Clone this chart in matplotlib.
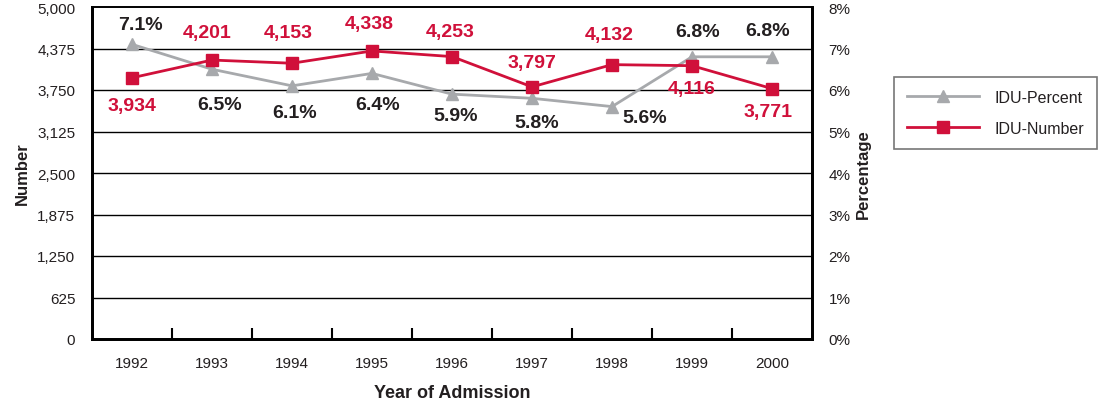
import numpy as np
import matplotlib.pyplot as plt
from matplotlib.ticker import FuncFormatter, FixedLocator

plt.rcParams['font.family'] = ['Liberation Sans Narrow', 'Liberation Sans', 'DejaVu Sans']

years = ['1992', '1993', '1994', '1995', '1996', '1997', '1998', '1999', '2000']
idu_number = [3934, 4201, 4153, 4338, 4253, 3797, 4132, 4116, 3771]
idu_percent = [7.1, 6.5, 6.1, 6.4, 5.9, 5.8, 5.6, 6.8, 6.8]

# label offsets in pixels (dx, dy up)
num_off = [(0, -28), (-5, 28), (-4, 31), (-3, 27), (-2, 25), (0, 24), (-3, 30), (0, -23), (-4, -23)]
pct_off = [(8, 20), (8, -35), (3, -27), (6, -31), (4, -21), (5, -24), (33, -11), (6, 25), (-4, 26)]

red = '#D0103A'
grey = '#A7A9AC'
dark = '#231F20'

fig = plt.figure(figsize=(10.99, 4.02), dpi=100)
ax = fig.add_axes([92 / 1099, 1 - 340 / 402, 720 / 1099, 332 / 402])
ax2 = ax.twinx()

x = np.arange(len(years))
ax.set_xlim(-0.5, len(years) - 0.5)
ax.set_ylim(0, 5000)
ax2.set_ylim(0, 8)

yt = np.arange(0, 5001, 625)
ax.set_yticks(yt)
ax.yaxis.set_major_formatter(FuncFormatter(lambda v, p: f'{int(v):,}'))
ax2.set_yticks(np.arange(0, 9))
ax2.yaxis.set_major_formatter(FuncFormatter(lambda v, p: f'{int(v)}%'))
for v in yt[1:-1]:
    ax.axhline(v, color='black', lw=1, zorder=0)

ax.set_xticks(x)
ax.set_xticklabels(years)
ax.xaxis.set_minor_locator(FixedLocator(np.arange(0.5, len(years) - 1, 1)))
ax.tick_params(axis='x', which='major', length=0, pad=12, labelsize=11, colors=dark)
ax.tick_params(axis='x', which='minor', direction='in', length=8, width=1.5, color='black')
ax.tick_params(axis='y', length=0, pad=12, labelsize=11, colors=dark)
ax2.tick_params(axis='y', length=0, pad=12, labelsize=11, colors=dark)

for a in (ax, ax2):
    for s in a.spines.values():
        s.set_linewidth(2)
        s.set_color('black')
ax.spines['top'].set_linewidth(1.2)
ax2.spines['top'].set_linewidth(1.2)

lp, = ax2.plot(x, idu_percent, color=grey, lw=2, marker='^', ms=9, mec=grey, mfc=grey,
               label='IDU-Percent', zorder=3)
ln, = ax2.plot(x, [v / 5000 * 8 for v in idu_number], color=red, lw=2, marker='s', ms=9,
               mec=red, mfc=red, label='IDU-Number', zorder=4)

for i in range(len(years)):
    yn = idu_number[i] / 5000 * 8
    dx, dy = num_off[i]
    ax2.annotate(f'{idu_number[i]:,}', (x[i], yn), xytext=(dx * 0.72, dy * 0.72),
                 textcoords='offset points', ha='center', va='center', color=red,
                 fontsize=14, fontweight='bold')
    dx, dy = pct_off[i]
    ax2.annotate(f'{idu_percent[i]:.1f}%', (x[i], idu_percent[i]), xytext=(dx * 0.72, dy * 0.72),
                 textcoords='offset points', ha='center', va='center', color=dark,
                 fontsize=14, fontweight='bold')

ax.set_ylabel('Number', fontsize=12, fontweight='bold', color=dark, labelpad=5)
ax2.set_ylabel('Percentage', fontsize=12, fontweight='bold', color=dark, labelpad=4)
ax.set_xlabel('Year of Admission', fontsize=13, fontweight='bold', color=dark, labelpad=10)

leg = fig.legend(handles=[lp, ln], loc='upper left', bbox_to_anchor=(886 / 1099, 1 - 70 / 402),
                 frameon=True, fancybox=False, edgecolor='#555555', fontsize=11.5,
                 handlelength=4.5, borderpad=0.8, labelspacing=1.0, handletextpad=1.0)
leg.get_frame().set_linewidth(1.2)
for t in leg.get_texts():
    t.set_color(dark)

fig.savefig('out.png', dpi=100)
